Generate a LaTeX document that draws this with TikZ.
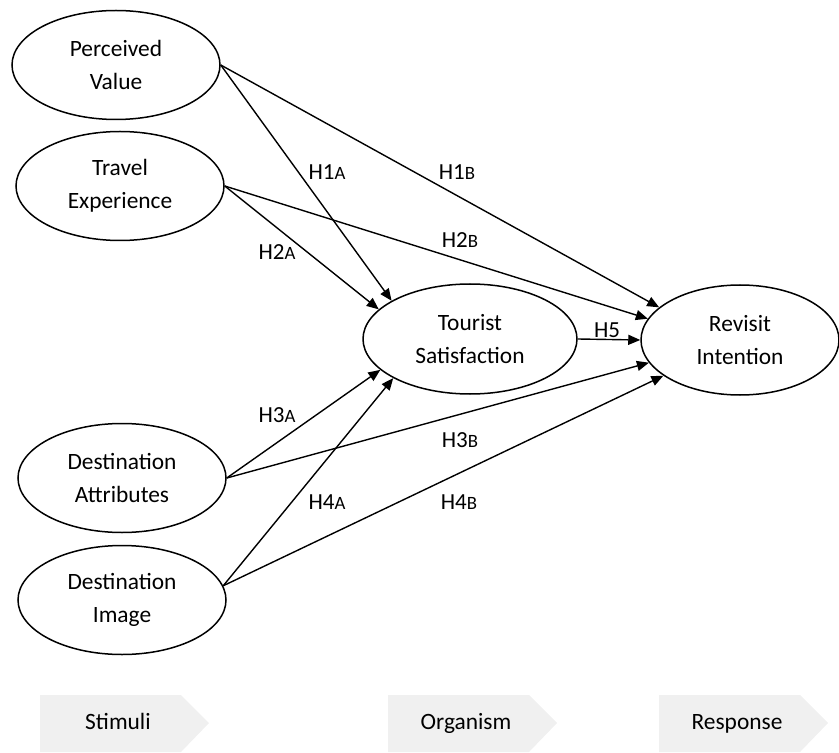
\documentclass[tikz,border=0pt]{standalone}
\usepackage{fontspec}
\setmainfont{Carlito}
\usetikzlibrary{arrows.meta,shapes.geometric}
\newcommand{\hlab}[2]{H#1{\fontsize{9.4}{9.4}\selectfont #2}}
\definecolor{stagegray}{HTML}{F0F0F0}

\begin{document}
\begin{tikzpicture}[x=0.5pt, y=-0.5pt,
  construct/.style={draw, ellipse, line width=0.75pt, inner sep=0pt,
    minimum width=104pt, minimum height=54.5pt, align=center,
    font=\fontsize{11.7}{16.5}\selectfont},
  link/.style={-{Triangle[length=6pt,width=5pt]}, line width=0.7pt},
  hyp/.style={inner sep=0pt, font=\fontsize{11.5}{12}\selectfont},
  stagetext/.style={inner sep=0pt, anchor=base, font=\fontsize{11.7}{12}\selectfont}]
  \useasboundingbox (0,0) rectangle (839,753);

  % stimuli
  \node[construct] (pv) at (116,65) {Perceived\\Value};
  \node[construct] (te) at (120,186) {Travel\\Experience};
  \node[construct] (da) at (122,478) {Destination\\Attributes};
  \node[construct] (di) at (122,600) {Destination\\Image};
  % organism and response
  \node[construct, minimum width=107pt, minimum height=55pt] (ts) at (470,339) {Tourist\\Satisfaction};
  \node[construct, minimum width=99pt, minimum height=55pt] (ri) at (740,340) {Revisit\\Intention};

  % paths
  \draw[link] (pv.east) -- (ts.154);
  \draw[link] (pv.east) -- (ri.158);
  \draw[link] (te.east) -- (ts.162);
  \draw[link] (te.east) -- (ri.167);
  \draw[link] (da.east) -- (ts.199);
  \draw[link] (da.east) -- (ri.194);
  \draw[link] (di.8) -- (ts.207);
  \draw[link] (di.8) -- (ri.205);
  \draw[link] (ts.east) -- (ri.west);

  \node[hyp] (h1a) at (327,172) {\hlab{1}{A}};
  \node[hyp] (h1b) at (457,172) {\hlab{1}{B}};
  \node[hyp] (h2a) at (277,252) {\hlab{2}{A}};
  \node[hyp] (h2b) at (460,240) {\hlab{2}{B}};
  \node[hyp] (h3a) at (277,415) {\hlab{3}{A}};
  \node[hyp] (h3b) at (460,440) {\hlab{3}{B}};
  \node[hyp] (h4a) at (327,502) {\hlab{4}{A}};
  \node[hyp] (h4b) at (459,502) {\hlab{4}{B}};
  \node[hyp] (h5) at (607,330) {H5};

  % stages
  \foreach \x/\lab in {40/Stimuli, 388/Organism, 659/Response} {
    \fill[stagegray] (\x,695) -- (\x+141,695) -- (\x+169,723) -- (\x+141,752) -- (\x,752) -- cycle;
    \node[stagetext] (stage-\lab) at (\x+78,729) {\lab};
  }
\end{tikzpicture}
\end{document}
